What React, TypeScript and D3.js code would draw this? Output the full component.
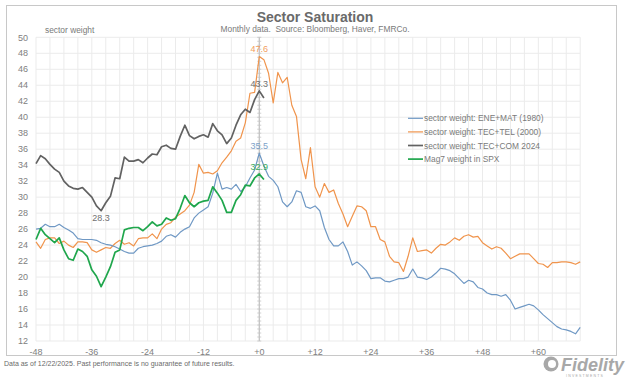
import React from "react";
import * as d3 from "d3";

const MONTHS = d3.range(-48, 70);
const MONTHS_2024 = d3.range(-48, 2);

const ENE_MAT_1980 = [
  26.0, 26.1, 26.6, 26.3, 26.3, 26.6, 26.2, 25.9, 25.5, 24.8,
  24.7, 24.7, 24.7, 24.6, 24.3, 24.1, 24.0, 23.8, 23.5, 23.2,
  23.0, 23.0, 23.6, 23.8, 23.9, 24.0, 24.2, 24.5, 25.1, 25.3,
  25.0, 25.6, 26.0, 26.3, 27.4, 28.0, 28.4, 28.8, 30.5, 33.0,
  31.0, 31.2, 31.0, 31.6, 30.7, 31.3, 32.4, 33.4, 35.5, 33.9,
  32.6, 32.1, 31.3, 29.4, 28.8, 29.4, 30.8, 30.6, 28.8, 28.6,
  28.9, 28.3, 26.2, 24.7, 23.9, 23.9, 24.4, 23.2, 21.5, 21.9,
  21.4, 20.8, 19.8, 19.9, 19.9, 19.5, 19.4, 19.6, 19.8, 19.8,
  20.0, 21.0, 20.0, 19.9, 19.7, 20.0, 20.5, 21.1, 21.0, 20.8,
  20.4, 19.8, 19.2, 19.6, 19.4, 18.7, 18.5, 18.0, 17.8, 17.8,
  17.6, 17.8, 17.1, 16.0, 16.2, 16.4, 16.6, 16.4, 15.9, 15.3,
  14.8, 14.3, 13.8, 13.5, 13.4, 13.2, 12.9, 13.7,
];

const TEC_TEL_2000 = [
  24.4, 23.6, 24.7, 24.9, 24.9, 24.2, 24.5, 24.0, 23.7, 24.4,
  24.4, 24.3, 23.4, 23.1, 23.4, 23.7, 23.6, 24.2, 24.6, 24.1,
  24.3, 23.9, 24.8, 24.9, 24.9, 25.4, 24.8, 26.0, 26.6, 26.8,
  27.5, 27.9, 28.3, 29.0, 30.6, 34.1, 33.0, 33.1, 32.9, 33.3,
  34.3, 35.0, 35.8, 37.0, 37.4, 39.3, 43.0, 43.1, 47.6, 47.2,
  45.5, 41.8, 45.6, 44.3, 45.0, 41.5, 40.1, 34.7, 32.3, 36.2,
  31.3, 30.0, 31.7, 30.6, 30.9, 29.2, 27.9, 26.3, 27.6, 28.9,
  28.8, 28.3, 26.3, 26.3, 24.7, 24.4, 22.6, 21.9, 21.8, 20.7,
  22.6, 24.9, 23.2, 23.3, 23.4, 23.0, 23.6, 24.1, 24.0, 24.4,
  24.9, 24.6, 25.1, 25.3, 25.0, 25.1, 24.3, 23.9, 23.5, 23.8,
  23.6, 23.0, 22.3, 22.6, 22.9, 22.9, 22.9, 22.3, 21.7, 21.6,
  21.2, 21.8, 21.8, 21.9, 21.9, 21.8, 21.6, 21.9,
];

const TEC_COM_2024 = [
  34.2, 35.2, 34.8, 34.1, 33.5, 33.1, 32.0, 31.4, 31.1, 31.0,
  31.2, 30.6, 30.0, 28.9, 28.3, 29.3, 30.1, 32.4, 32.3, 35.0,
  34.5, 34.5, 34.7, 34.3, 34.9, 35.4, 35.3, 36.3, 36.5, 36.1,
  36.0, 37.6, 39.0, 37.7, 37.3, 37.6, 37.8, 37.5, 39.2, 38.3,
  37.8, 36.7, 37.4, 39.0, 40.3, 41.0, 40.6, 42.2, 43.3, 42.4,
];

const MAG7 = [
  24.7, 26.1, 25.3, 24.8, 24.3, 24.9, 23.4, 22.3, 22.1, 23.5,
  23.2, 22.6, 20.9, 20.1, 18.8, 20.0, 21.3, 23.1, 23.4, 25.9,
  26.1, 26.2, 26.2, 25.8, 26.3, 26.9, 26.4, 26.6, 27.4, 27.1,
  27.3, 28.6, 30.2, 29.3, 28.8, 29.3, 29.5, 29.6, 31.3, 30.5,
  29.6, 28.1, 28.1, 29.6, 30.3, 31.5, 31.4, 32.4, 32.9, 32.2,
];

const X_TICKS = [-48, -36, -24, -12, 0, 12, 24, 36, 48, 60];
const Y_TICKS = d3.range(12, 51, 2);
const X_GRID = d3.range(-48, 70, 3);

const SERIES_NAMES = [
  "sector weight: ENE+MAT (1980)",
  "sector weight: TEC+TEL (2000)",
  "sector weight: TEC+COM 2024",
  "Mag7 weight in SPX",
];
const COLORS = ["#6f98c4", "#f0944c", "#626262", "#1fa64c"];
const WIDTHS = [1.2, 1.2, 1.7, 1.7];

const ANNOTATIONS = [
  { month: 0, value: 47.6, label: "47.6", s: 1, dy: -4 },
  { month: 0, value: 43.3, label: "43.3", s: 2, dy: -4 },
  { month: 0, value: 35.5, label: "35.5", s: 0, dy: -4 },
  { month: 0, value: 32.9, label: "32.9", s: 3, dy: -4 },
  { month: -34, value: 28.3, label: "28.3", s: 2, dy: 10 },
];

const FONT = "Arial, 'Liberation Sans', sans-serif";

export default function App() {
  const W = 640, H = 380;
  const x = d3.scaleLinear().domain([-48, 69]).range([36, 580.2]);
  const y = d3.scaleLinear().domain([12, 50]).range([341, 37.3]);

  const seriesData = [
    MONTHS.map((m, i) => [m, ENE_MAT_1980[i]] as [number, number]),
    MONTHS.map((m, i) => [m, TEC_TEL_2000[i]] as [number, number]),
    MONTHS_2024.map((m, i) => [m, TEC_COM_2024[i]] as [number, number]),
    MONTHS_2024.map((m, i) => [m, MAG7[i]] as [number, number]),
  ];
  const line = d3
    .line<[number, number]>()
    .x((d) => x(d[0]))
    .y((d) => y(d[1]));

  const drawOrder = [1, 0, 2, 3];
  const zx = x(0);
  const zeroTicks = d3.range(12, 50.01, 0.5);
  const gridColor = "#ebebeb";
  const tickColor = "#808080";

  return (
    <svg
      width={W}
      height={H}
      style={{ position: "absolute", left: 0, top: 0, background: "#fff" }}
      fontFamily={FONT}
    >
      <rect x={0} y={0} width={W} height={H} fill="#fff" />
      <rect x={6.5} y={5.5} width={610} height={350} fill="none" stroke="#c8c8c8" />

      {Y_TICKS.map((t) => (
        <line key={"gy" + t} x1={x(-48)} x2={x(69)} y1={y(t)} y2={y(t)} stroke={gridColor} strokeWidth={1} />
      ))}
      {X_GRID.map((t) => (
        <line key={"gx" + t} x1={x(t)} x2={x(t)} y1={y(50)} y2={y(12)} stroke={gridColor} strokeWidth={1} />
      ))}

      <line x1={zx} x2={zx} y1={y(50)} y2={y(12)} stroke="#b8b8b8" strokeWidth={1} />
      {zeroTicks.map((t) => (
        <line key={"zt" + t} x1={zx - 2} x2={zx + 2} y1={y(t)} y2={y(t)} stroke="#c4c4c4" strokeWidth={0.8} />
      ))}

      {Y_TICKS.map((t) => (
        <text key={"yl" + t} x={28} y={y(t) + 3.2} textAnchor="end" fontSize={9} fill={tickColor}>
          {t}
        </text>
      ))}
      {X_TICKS.map((t) => (
        <text key={"xl" + t} x={x(t)} y={354.5} textAnchor="middle" fontSize={9} fill={tickColor}>
          {t < 0 ? `-${Math.abs(t)}` : `+${t}`}
        </text>
      ))}

      {drawOrder.map((s) => (
        <path
          key={"s" + s}
          d={line(seriesData[s]) || ""}
          fill="none"
          stroke={COLORS[s]}
          strokeWidth={WIDTHS[s]}
          strokeLinejoin="round"
        />
      ))}

      {ANNOTATIONS.map((a, i) => (
        <text
          key={"an" + i}
          x={x(a.month)}
          y={y(a.value) + a.dy}
          textAnchor="middle"
          fontSize={9}
          fill={COLORS[a.s]}
          opacity={0.9}
        >
          {a.label}
        </text>
      ))}

      <text x={315} y={22} textAnchor="middle" fontSize={14} fontWeight="bold" fill="#6a6a6a">
        Sector Saturation
      </text>
      <text x={315} y={32} textAnchor="middle" fontSize={8.4} fill="#7a7a7a" style={{ whiteSpace: "pre" }}>
        {"Monthly data.  Source: Bloomberg, Haver, FMRCo."}
      </text>
      <text x={45} y={33} fontSize={8.4} fill="#7a7a7a">
        sector weight
      </text>

      {SERIES_NAMES.map((n, i) => {
        const ly = [118.3, 131.9, 145.5, 159.1][i];
        return (
          <g key={"lg" + i}>
            <line x1={408} x2={423} y1={ly} y2={ly} stroke={COLORS[i]} strokeWidth={WIDTHS[i]} />
            <text x={424} y={ly + 3} fontSize={8.4} fill="#7a7a7a">
              {n}
            </text>
          </g>
        );
      })}

      <text x={4} y={366} fontSize={7} fill="#6a6a6a">
        Data as of 12/22/2025. Past performance is no guarantee of future results.
      </text>

      <g fill="#a8a8a8">
        <circle cx={551} cy={364} r={7.5} />
        <circle cx={552} cy={364} r={4} fill="#fff" />
        <text x={561} y={371} fontSize={18} fontWeight="bold" fontStyle="italic">
          Fidelity
        </text>
        <text x={566} y={377} fontSize={3.5} letterSpacing={1.2}>
          INVESTMENTS
        </text>
      </g>
    </svg>
  );
}
